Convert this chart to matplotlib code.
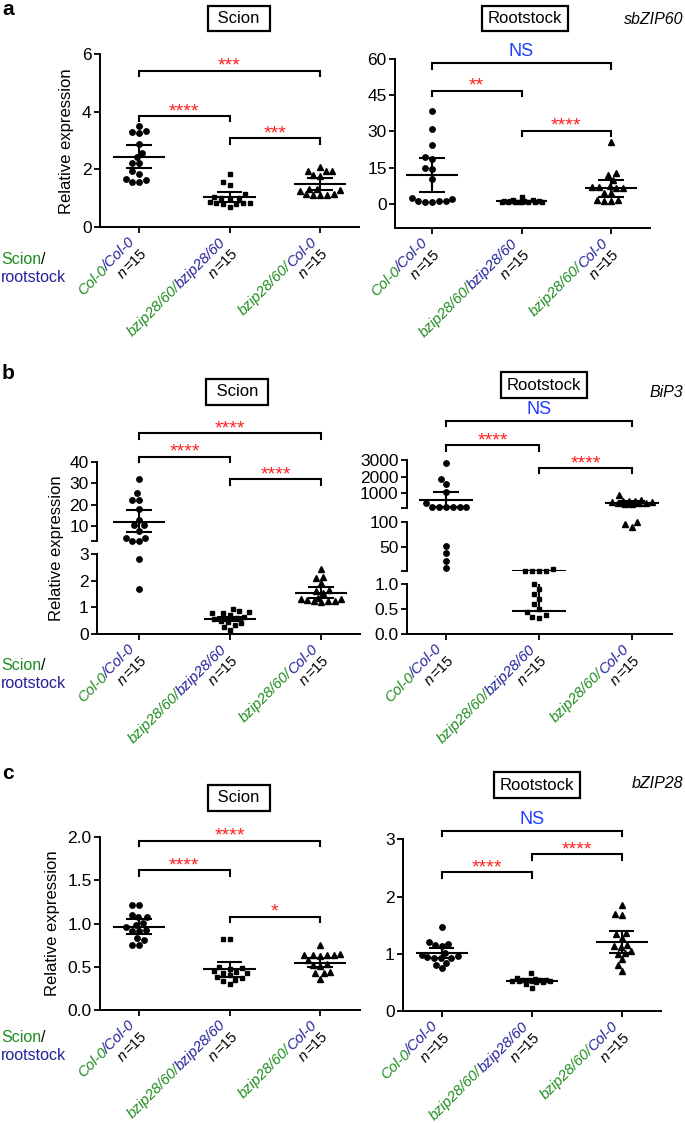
import numpy as np
import matplotlib
matplotlib.use('Agg')
import matplotlib.pyplot as plt
import matplotlib.transforms as mtransforms
from matplotlib.font_manager import FontProperties

plt.rcParams['font.family'] = ['Liberation Sans', 'DejaVu Sans']

GREEN = '#1f8c1f'
NAVY = '#22229a'
RED = '#ff2020'
NSBLUE = '#1f3cff'

# ---------------- data ----------------
scion_part = ['Col-0', 'bzip28/60/', 'bzip28/60/']
root_part = ['/Col-0', 'bzip28/60', 'Col-0']
n_per_group = [15, 15, 15]
pairs = [(0, 1), (1, 2), (0, 2)]

sbzip60_scion = [
    [3.52, 3.34, 3.31, 3.27, 2.88, 2.58, 2.44, 2.21, 2.21, 1.93, 1.84, 1.67, 1.62, 1.56, 1.56],
    [1.83, 1.57, 1.46, 1.15, 1.05, 1.02, 1.00, 0.98, 0.85, 0.83, 0.82, 0.82, 0.80, 0.79, 0.70],
    [2.07, 1.95, 1.95, 1.93, 1.80, 1.78, 1.33, 1.32, 1.28, 1.26, 1.15, 1.13, 1.12, 1.12, 1.10],
]
sbzip60_scion_mean = [2.43, 1.03, 1.48]
sbzip60_scion_sem = [(2.03, 2.84), (0.85, 1.22), (1.28, 1.69)]
sbzip60_scion_sig = ['****', '***', '***']

sbzip60_root = [
    [38.6, 30.9, 24.4, 19.6, 18.6, 15.0, 14.3, 10.3, 2.4, 2.2, 1.3, 1.2, 1.2, 0.9, 0.6],
    [2.8, 1.8, 1.4, 1.2, 1.1, 1.0, 1.0, 0.9, 0.9, 0.9, 0.8, 0.8, 0.8, 0.7, 0.7],
    [25.8, 12.6, 12.1, 10.0, 7.5, 7.0, 6.8, 6.6, 6.5, 4.7, 4.6, 1.5, 1.4, 1.3, 1.2],
]
sbzip60_root_mean = [12.0, 1.1, 6.5]
sbzip60_root_sem = [(5.1, 18.9), (0.9, 1.3), (3.0, 9.9)]
sbzip60_root_sig = ['**', '****', 'NS']

bip3_scion = [
    [32.0, 25.3, 22.2, 22.2, 17.8, 12.8, 10.3, 10.3, 7.8, 4.5, 4.5, 3.2, 3.2, 2.8, 1.7],
    [0.92, 0.85, 0.82, 0.80, 0.78, 0.72, 0.65, 0.60, 0.55, 0.50, 0.45, 0.40, 0.35, 0.25, 0.15],
    [2.45, 2.15, 2.10, 1.90, 1.65, 1.62, 1.55, 1.35, 1.30, 1.30, 1.28, 1.25, 1.25, 1.22, 1.20],
]
bip3_scion_mean = [12.0, 0.55, 1.55]
bip3_scion_sem = [(7.2, 17.5), (0.48, 0.62), (1.34, 1.77)]
bip3_scion_sig = ['****', '****', '****']

bip3_root = [
    [2800, 1850, 1550, 1066, 384, 170, 165, 160, 160, 155, 150, 51.5, 36.8, 21.0, 6.5],
    [5.0, 1.6, 1.6, 1.6, 1.6, 1.0, 0.91, 0.81, 0.71, 0.61, 0.51, 0.45, 0.38, 0.35, 0.33],
    [885, 600, 550, 520, 500, 480, 450, 420, 400, 380, 350, 330, 100, 95, 90],
]
bip3_root_mean = [583, 0.47, 384]
bip3_root_sem = [(180, 1066), (0.47, 1.6), (220, 505)]
bip3_root_sig = ['****', '****', 'NS']

bzip28_scion = [
    [1.22, 1.21, 1.10, 1.08, 1.07, 1.01, 0.985, 0.96, 0.93, 0.91, 0.91, 0.83, 0.81, 0.755, 0.75],
    [0.82, 0.82, 0.50, 0.48, 0.47, 0.45, 0.44, 0.43, 0.42, 0.40, 0.38, 0.37, 0.35, 0.33, 0.30],
    [0.75, 0.65, 0.64, 0.64, 0.63, 0.63, 0.62, 0.58, 0.53, 0.52, 0.51, 0.44, 0.43, 0.42, 0.36],
]
bzip28_scion_mean = [0.965, 0.47, 0.545]
bzip28_scion_sem = [(0.88, 1.05), (0.38, 0.55), (0.49, 0.60)]
bzip28_scion_sig = ['****', '*', '****']

bzip28_root = [
    [1.46, 1.21, 1.17, 1.15, 1.14, 1.02, 0.97, 0.96, 0.95, 0.93, 0.93, 0.92, 0.84, 0.81, 0.75],
    [0.67, 0.58, 0.56, 0.55, 0.55, 0.54, 0.54, 0.53, 0.53, 0.52, 0.52, 0.51, 0.50, 0.48, 0.41],
    [1.85, 1.70, 1.68, 1.37, 1.35, 1.28, 1.15, 1.13, 1.12, 1.05, 1.02, 1.00, 0.90, 0.80, 0.70],
]
bzip28_root_mean = [1.01, 0.53, 1.20]
bzip28_root_sem = [(0.92, 1.10), (0.50, 0.56), (1.02, 1.40)]
bzip28_root_sig = ['****', '****', 'NS']

# ---------------- figure ----------------
W, H = 685, 1123
fig = plt.figure(figsize=(W / 100, H / 100), dpi=100)
renderer = fig.canvas.get_renderer()

markers = ['o', 's', '^']
msizes = [3.9, 3.3, 4.3]
fp_it = FontProperties(family='Liberation Sans', style='italic', size=10.7)
fp_rm = FontProperties(family='Liberation Sans', size=10.7)
c45 = s45 = np.sqrt(0.5)


def tw(s, fp):
    w, h, d = renderer.get_text_width_height_descent(s, fp, ismath=False)
    return w


def fx(px):
    return px / W


def fy(py):
    return 1 - py / H


def swarm(y_px, d=7.0, maxw=20.0):
    order = np.argsort(y_px)
    xs = np.zeros(len(y_px))
    placed = []
    for i in order:
        y = y_px[i]
        near = []
        cands = [0.0]
        for px, py in placed:
            dy = abs(py - y)
            if dy < d:
                r = np.sqrt(d * d - dy * dy)
                near.append((px, r))
                cands += [px - r, px + r]
        cands = [c for c in cands if abs(c) <= maxw]
        cands.sort(key=lambda c: (abs(c), c))
        best = None
        for c in cands:
            if all(abs(c - px) >= r - 1e-6 for px, r in near):
                best = c
                break
        if best is None:
            grid = np.linspace(-maxw, maxw, 15)
            score = [min([np.hypot(g - px, y - py) for px, py in placed] + [1e9]) for g in grid]
            best = grid[int(np.argmax(score))]
        xs[i] = best
        placed.append((best, y))
    return xs


def panel(layout, data, means, sems, sig, bars):
    t0, t2 = layout['ticks_px']
    sp = (t2 - t0) / 2
    xl, xr = layout['x_px']
    xlim = ((xl - t0) / sp, (xr - t0) / sp)
    segs = layout['segs']
    axes = []
    for k, (lo, hi, top, bot, ticks, labels) in enumerate(segs):
        ax = fig.add_axes([fx(xl), fy(bot), (xr - xl) / W, (bot - top) / H])
        ax.set_xlim(*xlim)
        ax.set_ylim(lo, hi)
        ax.patch.set_alpha(0)
        for s in ['top', 'right']:
            ax.spines[s].set_visible(False)
        ax.spines['left'].set_linewidth(1.4)
        ax.spines['bottom'].set_linewidth(1.4)
        ax.set_yticks(ticks)
        if labels is not None:
            ax.set_yticklabels(labels)
        ax.tick_params(axis='y', direction='out', length=4, width=1.3, labelsize=12.5, pad=2)
        if k == 0:
            ax.set_xticks([0, 1, 2])
            ax.set_xticklabels([])
            ax.tick_params(axis='x', direction='out', length=4, width=1.3)
        else:
            ax.spines['bottom'].set_visible(False)
            ax.set_xticks([])
        axes.append(ax)

    # points, placed by a simple beeswarm in pixel space
    for g, vals in enumerate(data):
        vals = np.asarray(vals, float)
        seg_idx = np.array([next(k for k, s in enumerate(segs) if v <= s[1] or k == len(segs) - 1) for v in vals])
        ypx = np.array([axes[k].transData.transform((g, v))[1] for k, v in zip(seg_idx, vals)])
        dx = swarm(ypx) / sp
        for k in range(len(segs)):
            m = seg_idx == k
            if m.any():
                axes[k].plot(g + dx[m], vals[m], ls='none', marker=markers[g], ms=msizes[g],
                             color='black', clip_on=False, zorder=3)
        lo, hi = sems[g]
        for ax in axes:
            ax.hlines(means[g], g - 0.29, g + 0.29, color='black', lw=1.5, zorder=4)
            ax.vlines(g, lo, hi, color='black', lw=1.5, zorder=4)
            ax.hlines([lo, hi], g - 0.14, g + 0.14, color='black', lw=1.5, zorder=4)

    # significance brackets on the top segment
    ax = axes[-1]
    ppu = ax.transData.transform((0, 1))[1] - ax.transData.transform((0, 0))[1]
    drop = 5.5 / ppu
    for (i, j), yb, lab in zip(pairs, bars, sig):
        ax.plot([i, i, j, j], [yb - drop, yb, yb, yb - drop], color='black', lw=1.5,
                clip_on=False, solid_joinstyle='miter')
        tr = mtransforms.offset_copy(ax.transData, fig=fig, x=0, y=0 if lab != 'NS' else 3, units='dots')
        if lab == 'NS':
            ax.text((i + j) / 2, yb, lab, transform=tr, ha='center', va='bottom', color=NSBLUE,
                    fontsize=13, clip_on=False)
        else:
            ax.text((i + j) / 2, yb, lab, transform=tr, ha='center', va='baseline', color=RED,
                    fontsize=14, clip_on=False)

    # rotated two-colour group labels
    ax = axes[0]
    for g in range(3):
        lines = [[(scion_part[g], GREEN, fp_it), (root_part[g], NAVY, fp_it)],
                 [('n', 'black', fp_it), ('=%d' % n_per_group[g], 'black', fp_rm)]]
        for li, line in enumerate(lines):
            ox, oy = -3 + li * 11.5, -16 - li * 11.5
            acc = 0.0
            for txt, col, fp in reversed(line):
                tr = mtransforms.offset_copy(ax.get_xaxis_transform(), fig=fig,
                                             x=ox - acc * c45, y=oy - acc * s45, units='dots')
                ax.text(g, 0, txt, transform=tr, rotation=45, rotation_mode='anchor',
                        ha='right', va='baseline', color=col, fontproperties=fp, clip_on=False)
                acc += tw(txt, fp) + (-0.5 if li == 0 else 1.0)
    return axes


layouts = {
    'a_left': dict(x_px=(100, 359), ticks_px=(139, 320),
                   segs=[(0, 6, 54, 227, [0, 2, 4, 6], None)]),
    'a_right': dict(x_px=(395, 650), ticks_px=(432, 611),
                    segs=[(-10, 60, 59, 228, [0, 15, 30, 45, 60], None)]),
    'b_left': dict(x_px=(97, 360), ticks_px=(139, 321),
                   segs=[(0, 3, 554, 634, [0, 1, 2, 3], None),
                         (3, 40, 462, 541, [3, 10, 20, 30, 40], ['', '10', '20', '30', '40'])]),
    'b_right': dict(x_px=(407, 672), ticks_px=(446, 632),
                    segs=[(0, 1, 584, 634, [0, 0.5, 1], ['0.0', '0.5', '1.0']),
                          (1, 100, 522, 571, [1, 50, 100], ['', '50', '100']),
                          (100, 3000, 460, 508, [100, 1000, 2000, 3000], ['', '1000', '2000', '3000'])]),
    'c_left': dict(x_px=(100, 360), ticks_px=(139, 320),
                   segs=[(0, 2, 837.3, 1009.7, [0, 0.5, 1, 1.5, 2], ['0.0', '0.5', '1.0', '1.5', '2.0'])]),
    'c_right': dict(x_px=(403, 661), ticks_px=(441.7, 621.7),
                    segs=[(0, 3, 839.3, 1011, [0, 1, 2, 3], None)]),
}

panel(layouts['a_left'], sbzip60_scion, sbzip60_scion_mean, sbzip60_scion_sem, sbzip60_scion_sig,
      [3.85, 3.08, 5.42])
panel(layouts['a_right'], sbzip60_root, sbzip60_root_mean, sbzip60_root_sem, sbzip60_root_sig,
      [46.8, 30.2, 58.3])
panel(layouts['b_left'], bip3_scion, bip3_scion_mean, bip3_scion_sem, bip3_scion_sig,
      [42.5, 31.9, 53.4])
panel(layouts['b_right'], bip3_root, bip3_root_mean, bip3_root_sem, bip3_root_sig,
      [3906, 2517, 5374])
panel(layouts['c_left'], bzip28_scion, bzip28_scion_mean, bzip28_scion_sem, bzip28_scion_sig,
      [1.62, 1.08, 1.96])
panel(layouts['c_right'], bzip28_root, bzip28_root_mean, bzip28_root_sem, bzip28_root_sig,
      [2.42, 2.74, 3.15])

# ---------------- figure-level text ----------------
for lab, y in [('a', 0), ('b', 364), ('c', 764)]:
    fig.text(fx(2), fy(y), lab, fontsize=15, fontweight='bold', va='top', ha='left')

for x, y in [(66, 141), (57, 548), (53, 923)]:
    fig.text(fx(x), fy(y), 'Relative expression', rotation=90, ha='center', va='center', fontsize=12)

box = dict(boxstyle='square,pad=0.32', fc='white', ec='black', lw=1.6)
for txt, x, y in [(' Scion ', 239, 18.5), ('Rootstock', 525, 18.5),
                  (' Scion ', 237, 392), ('Rootstock', 544, 385),
                  (' Scion ', 239, 798), ('Rootstock', 537, 785)]:
    fig.text(fx(x), fy(y), txt, ha='center', va='center', fontsize=12, bbox=box)

for txt, y in [('sbZIP60', 20), ('BiP3', 393), ('bZIP28', 783)]:
    fig.text(fx(683), fy(y), txt, ha='right', va='center', fontsize=11.5, style='italic')

fp_side = FontProperties(family='Liberation Sans', size=11.5)
for y in [260, 665, 1037]:
    fig.text(fx(1), fy(y), 'Scion', color=GREEN, fontproperties=fp_side, va='center', ha='left')
    fig.text(fx(1 + tw('Scion', fp_side)), fy(y), '/', color='black', fontproperties=fp_side,
             va='center', ha='left')
    fig.text(fx(1), fy(y + 18), 'rootstock', color=NAVY, fontproperties=fp_side, va='center', ha='left')

fig.savefig('out.png', dpi=100)
